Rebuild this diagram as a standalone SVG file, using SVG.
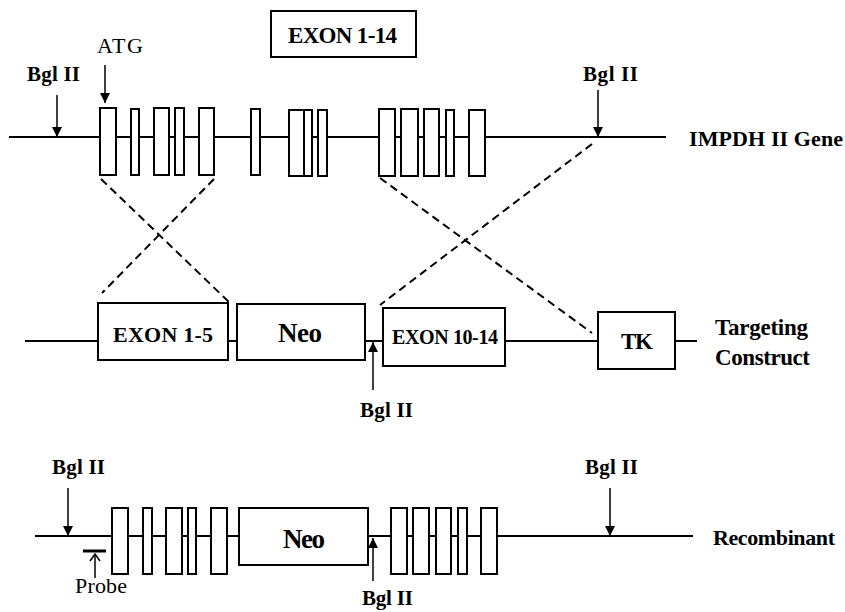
<svg xmlns="http://www.w3.org/2000/svg" width="845" height="612" viewBox="0 0 845 612">
<defs>
<marker id="ah" markerUnits="userSpaceOnUse" markerWidth="10" markerHeight="11" refX="10" refY="5" orient="auto"><path d="M0,0 L10,5 L0,10 z" fill="#000"/></marker>
</defs>
<style>
.ln{stroke:#000;stroke-width:2;fill:none}
.ex{fill:#fff;stroke:#000;stroke-width:2}
.t{font-family:"Liberation Serif","Times New Roman",serif;font-weight:bold;fill:#000}
.r{font-family:"Liberation Serif","Times New Roman",serif;fill:#000}
.dash{stroke:#000;stroke-width:2;stroke-dasharray:8 5;fill:none}
.arr{stroke:#000;stroke-width:1.5;fill:none;marker-end:url(#ah)}
</style>
<rect width="845" height="612" fill="#fff"/>

<g id="exon-1-14-label">
<rect class="ex" x="271" y="11" width="145" height="46"/>
<text class="t" x="288" y="43" font-size="23" textLength="109">EXON 1-14</text>
</g>

<g id="impdh-gene">
<line class="ln" x1="9" y1="137" x2="666" y2="137"/>
<rect class="ex" x="100" y="108" width="16" height="67"/>
<rect class="ex" x="131" y="109" width="8" height="66"/>
<rect class="ex" x="154" y="108" width="15" height="67"/>
<rect class="ex" x="175" y="108" width="9" height="67"/>
<rect class="ex" x="199" y="108" width="15" height="67"/>
<rect class="ex" x="251" y="109" width="9" height="66"/>
<rect class="ex" x="289" y="110" width="15" height="66"/>
<rect class="ex" x="304" y="110" width="8" height="66"/>
<rect class="ex" x="318" y="110" width="9" height="66"/>
<rect class="ex" x="379" y="109" width="16" height="67"/>
<rect class="ex" x="401" y="109" width="17" height="67"/>
<rect class="ex" x="424" y="109" width="15" height="67"/>
<rect class="ex" x="446" y="110" width="8" height="66"/>
<rect class="ex" x="469" y="110" width="16" height="66"/>
<text class="t" x="689" y="146" font-size="22" textLength="154">IMPDH II Gene</text>
</g>

<g id="targeting-construct">
<line class="ln" x1="25" y1="341" x2="98" y2="341"/>
<line class="ln" x1="228" y1="341" x2="237" y2="341"/>
<line class="ln" x1="365" y1="341" x2="383" y2="341"/>
<line class="ln" x1="505" y1="341" x2="598" y2="341"/>
<line class="ln" x1="675" y1="341" x2="697" y2="341"/>
<g id="exon-1-5"><rect class="ex" x="98" y="303" width="130" height="57"/>
<text class="t" x="113" y="342" font-size="22" textLength="100">EXON 1-5</text></g>
<g id="neo-construct"><rect class="ex" x="237" y="304" width="128" height="56"/>
<text class="t" x="278" y="342" font-size="27" textLength="44">Neo</text></g>
<g id="exon-10-14"><rect class="ex" x="383" y="308" width="122" height="58"/>
<text class="t" x="392" y="344" font-size="20" textLength="106">EXON 10-14</text></g>
<g id="tk"><rect class="ex" x="598" y="312" width="77" height="57"/>
<text class="t" x="621" y="349" font-size="23" textLength="32">TK</text></g>
<text class="t" x="715" y="335" font-size="23" textLength="93">Targeting</text>
<text class="t" x="715" y="365" font-size="23" textLength="95">Construct</text>
</g>

<g id="recombinant">
<line class="ln" x1="35" y1="536" x2="693" y2="536"/>
<rect class="ex" x="112" y="508" width="16" height="66"/>
<rect class="ex" x="143" y="508" width="9" height="66"/>
<rect class="ex" x="166" y="508" width="16" height="66"/>
<rect class="ex" x="188" y="508" width="8" height="66"/>
<rect class="ex" x="211" y="508" width="16" height="66"/>
<g id="neo-recombinant"><rect class="ex" x="239" y="508" width="129" height="57"/>
<text class="t" x="283" y="548" font-size="27" textLength="42">Neo</text></g>
<rect class="ex" x="391" y="508" width="16" height="66"/>
<rect class="ex" x="413" y="508" width="16" height="66"/>
<rect class="ex" x="436" y="508" width="15" height="66"/>
<rect class="ex" x="458" y="508" width="9" height="66"/>
<rect class="ex" x="481" y="508" width="16" height="66"/>
<text class="t" x="713" y="545" font-size="22" textLength="122">Recombinant</text>
</g>

<g id="probe">
<line x1="83" y1="551" x2="106" y2="551" stroke="#000" stroke-width="3"/>
<line x1="95" y1="578" x2="95" y2="554" stroke="#000" stroke-width="1.5"/>
<path d="M90,561 L95,554 L100,561" fill="none" stroke="#000" stroke-width="1.5"/>
<text class="r" x="75" y="593" font-size="22" textLength="52">Probe</text>
</g>

<g id="labels">
<text class="r" x="97" y="53" font-size="22" textLength="46">ATG</text>
<text class="t" x="27" y="81" font-size="21" textLength="53">Bgl II</text>
<text class="t" x="583" y="81" font-size="21" textLength="55">Bgl II</text>
<text class="t" x="360" y="417" font-size="21" textLength="53">Bgl II</text>
<text class="t" x="52" y="474" font-size="21" textLength="53">Bgl II</text>
<text class="t" x="585" y="474" font-size="21" textLength="53">Bgl II</text>
<text class="t" x="362" y="605" font-size="21" textLength="51">Bgl II</text>
</g>

<g id="connectors">
<line class="dash" x1="101" y1="179" x2="230" y2="303"/>
<line class="dash" x1="214" y1="179" x2="102" y2="293"/>
<line class="dash" x1="592" y1="144" x2="380" y2="305"/>
<line class="dash" x1="380" y1="178" x2="592" y2="333"/>
<line class="arr" x1="57" y1="95" x2="57" y2="137"/>
<line class="arr" x1="105" y1="65" x2="105" y2="103"/>
<line class="arr" x1="598" y1="90" x2="598" y2="137"/>
<line class="arr" x1="373" y1="390" x2="373" y2="342"/>
<line class="arr" x1="68" y1="488" x2="68" y2="536"/>
<line class="arr" x1="610" y1="488" x2="610" y2="536"/>
<line class="arr" x1="373" y1="581" x2="373" y2="538"/>
</g>
</svg>
